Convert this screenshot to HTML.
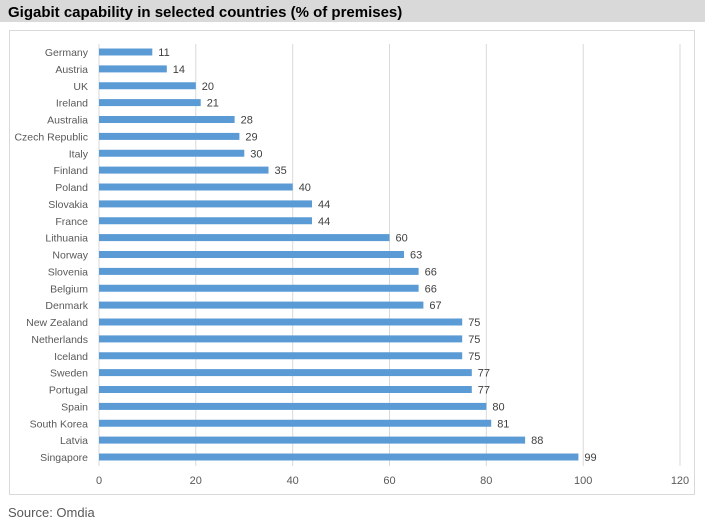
<!DOCTYPE html>
<html><head><style>
body{margin:0;background:#fff;width:705px;height:519px;overflow:hidden;font-family:"Liberation Sans",sans-serif}
</style></head><body>
<svg width="705" height="519" xmlns="http://www.w3.org/2000/svg" font-family="Liberation Sans, sans-serif">
<rect x="0" y="0" width="705" height="22" fill="#d9d9d9"/>
<text x="8" y="17" font-size="15" font-weight="bold" fill="#000">Gigabit capability in selected countries (% of premises)</text>
<rect x="9.5" y="30.5" width="685" height="464" fill="#fff" stroke="#d9d9d9"/>
<g stroke="#d9d9d9" stroke-width="1">
<line x1="195.8" y1="44" x2="195.8" y2="466"/>
<line x1="292.7" y1="44" x2="292.7" y2="466"/>
<line x1="389.5" y1="44" x2="389.5" y2="466"/>
<line x1="486.3" y1="44" x2="486.3" y2="466"/>
<line x1="583.2" y1="44" x2="583.2" y2="466"/>
<line x1="680" y1="44" x2="680" y2="466"/>
<line x1="99" y1="44" x2="99" y2="466"/>
</g>
<g font-size="11" fill="#595959" text-anchor="middle">
<text x="99" y="484">0</text><text x="195.8" y="484">20</text><text x="292.7" y="484">40</text>
<text x="389.5" y="484">60</text><text x="486.3" y="484">80</text><text x="583.2" y="484">100</text><text x="680" y="484">120</text>
</g>
<g fill="#5b9bd5">
<rect x="99" y="48.5" width="53.3" height="7"/>
<rect x="99" y="65.4" width="67.8" height="7"/>
<rect x="99" y="82.25" width="96.8" height="7"/>
<rect x="99" y="99.1" width="101.7" height="7"/>
<rect x="99" y="116" width="135.6" height="7"/>
<rect x="99" y="132.9" width="140.4" height="7"/>
<rect x="99" y="149.75" width="145.3" height="7"/>
<rect x="99" y="166.6" width="169.5" height="7"/>
<rect x="99" y="183.5" width="193.7" height="7"/>
<rect x="99" y="200.4" width="213" height="7"/>
<rect x="99" y="217.25" width="213" height="7"/>
<rect x="99" y="234.1" width="290.5" height="7"/>
<rect x="99" y="251" width="305" height="7"/>
<rect x="99" y="267.9" width="319.6" height="7"/>
<rect x="99" y="284.75" width="319.6" height="7"/>
<rect x="99" y="301.6" width="324.4" height="7"/>
<rect x="99" y="318.5" width="363.2" height="7"/>
<rect x="99" y="335.4" width="363.2" height="7"/>
<rect x="99" y="352.25" width="363.2" height="7"/>
<rect x="99" y="369.1" width="372.8" height="7"/>
<rect x="99" y="386" width="372.8" height="7"/>
<rect x="99" y="402.9" width="387.4" height="7"/>
<rect x="99" y="419.75" width="392.2" height="7"/>
<rect x="99" y="436.6" width="426.1" height="7"/>
<rect x="99" y="453.5" width="479.4" height="7"/>
</g>
<g font-size="10.5" fill="#595959" text-anchor="end">
<text x="88" y="56">Germany</text>
<text x="88" y="72.9">Austria</text>
<text x="88" y="89.75">UK</text>
<text x="88" y="106.6">Ireland</text>
<text x="88" y="123.5">Australia</text>
<text x="88" y="140.4">Czech Republic</text>
<text x="88" y="157.25">Italy</text>
<text x="88" y="174.1">Finland</text>
<text x="88" y="191">Poland</text>
<text x="88" y="207.9">Slovakia</text>
<text x="88" y="224.75">France</text>
<text x="88" y="241.6">Lithuania</text>
<text x="88" y="258.5">Norway</text>
<text x="88" y="275.4">Slovenia</text>
<text x="88" y="292.25">Belgium</text>
<text x="88" y="309.1">Denmark</text>
<text x="88" y="326">New Zealand</text>
<text x="88" y="342.9">Netherlands</text>
<text x="88" y="359.75">Iceland</text>
<text x="88" y="376.6">Sweden</text>
<text x="88" y="393.5">Portugal</text>
<text x="88" y="410.4">Spain</text>
<text x="88" y="427.25">South Korea</text>
<text x="88" y="444.1">Latvia</text>
<text x="88" y="461">Singapore</text>
</g>
<g font-size="11" fill="#404040">
<text x="158.3" y="56">11</text>
<text x="172.8" y="72.9">14</text>
<text x="201.8" y="89.75">20</text>
<text x="206.7" y="106.6">21</text>
<text x="240.6" y="123.5">28</text>
<text x="245.4" y="140.4">29</text>
<text x="250.3" y="157.25">30</text>
<text x="274.5" y="174.1">35</text>
<text x="298.7" y="191">40</text>
<text x="318" y="207.9">44</text>
<text x="318" y="224.75">44</text>
<text x="395.5" y="241.6">60</text>
<text x="410" y="258.5">63</text>
<text x="424.6" y="275.4">66</text>
<text x="424.6" y="292.25">66</text>
<text x="429.4" y="309.1">67</text>
<text x="468.2" y="326">75</text>
<text x="468.2" y="342.9">75</text>
<text x="468.2" y="359.75">75</text>
<text x="477.8" y="376.6">77</text>
<text x="477.8" y="393.5">77</text>
<text x="492.4" y="410.4">80</text>
<text x="497.2" y="427.25">81</text>
<text x="531.1" y="444.1">88</text>
<text x="584.4" y="461">99</text>
</g>
<text x="8" y="517" font-size="13" fill="#595959">Source: Omdia</text>
</svg>
</body></html>
